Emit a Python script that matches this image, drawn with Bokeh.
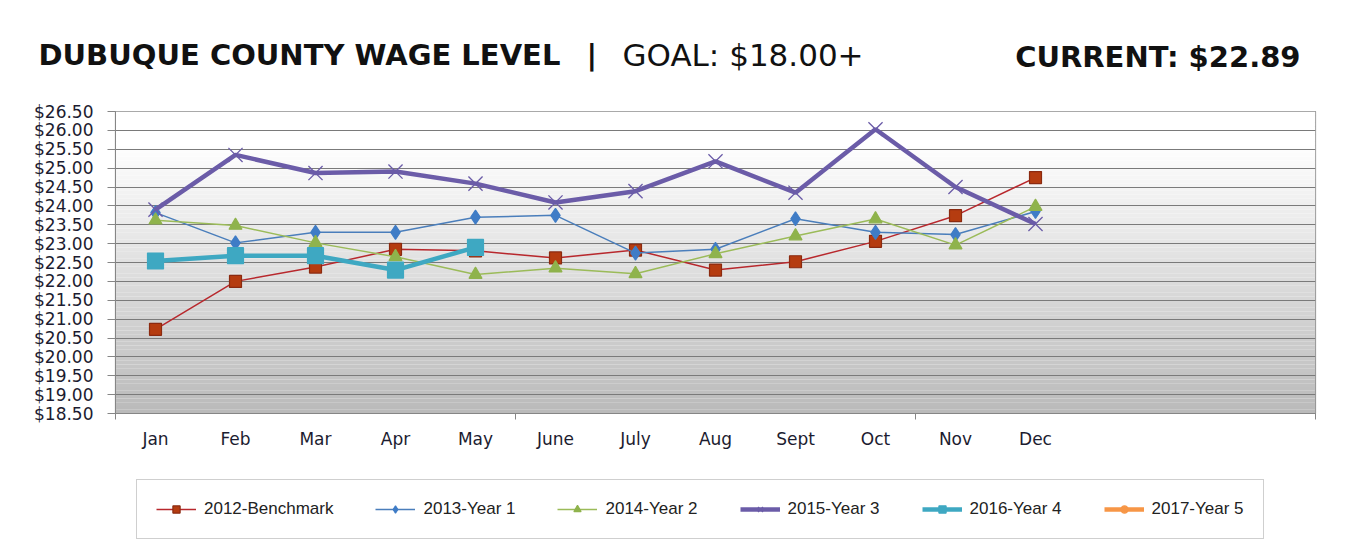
import numpy as np
from bokeh.plotting import figure
from bokeh.models import (Range1d, FixedTicker, PrintfTickFormatter, Legend, LegendItem)
from bokeh.core.properties import value
from bokeh.embed import file_html
from bokeh.resources import INLINE

# ---------------- data ----------------
months = ["Jan", "Feb", "Mar", "Apr", "May", "June", "July", "Aug", "Sept", "Oct", "Nov", "Dec"]
y2012 = [20.73, 22.00, 22.38, 22.85, 22.81, 22.62, 22.83, 22.30, 22.52, 23.06, 23.74, 24.75]
y2013 = [23.82, 23.02, 23.30, 23.30, 23.70, 23.75, 22.75, 22.85, 23.66, 23.30, 23.24, 23.85]
y2014 = [23.62, 23.48, 23.02, 22.65, 22.18, 22.35, 22.20, 22.73, 23.20, 23.65, 22.96, 23.98]
y2015 = [23.90, 25.35, 24.87, 24.91, 24.59, 24.09, 24.39, 25.18, 24.35, 26.03, 24.50, 23.52]
y2016 = [22.54, 22.68, 22.68, 22.30, 22.90]
y2017 = []  # no data reported yet
series_names = ["2012-Benchmark", "2013-Year 1", "2014-Year 2", "2015-Year 3", "2016-Year 4", "2017-Year 5"]
title_main = "DUBUQUE COUNTY WAGE LEVEL"
title_sep = "|"
title_goal = "GOAL: $18.00+"
title_current = "CURRENT: $22.89"

Y_MIN, Y_MAX, Y_STEP = 18.5, 26.5, 0.5
N_SLOTS = 15

W = 1353
HEAD_H = 95
MAIN_H = 365
LEG_H = 542 - HEAD_H - MAIN_H
FRAME_GREY = "#8c8c8c"

# ---------------- header (title texts) ----------------
head = figure(width=W, height=HEAD_H, output_backend="svg", toolbar_location=None,
              x_range=Range1d(0, W), y_range=Range1d(HEAD_H, 0),
              min_border=0, min_border_left=0, min_border_right=0,
              min_border_top=0, min_border_bottom=0)
head.axis.visible = False
head.grid.visible = False
head.outline_line_color = None
head.background_fill_color = "white"
head.border_fill_color = "white"

def htext(fig, x, y, txt, bold, size, align="left"):
    fig.text(x=[x], y=[y], text=[txt], text_font=value("DejaVu Sans"),
             text_font_size=size, text_font_style="bold" if bold else "normal",
             text_color="#111111", text_baseline="alphabetic", text_align=align)

htext(head, 38, 54, title_main, True, "29px")
htext(head, 586, 54, title_sep, True, "29px")
htext(head, 622, 54, title_goal, False, "31px")
htext(head, 1300, 56, title_current, True, "29px", align="right")

# ---------------- main chart ----------------
p = figure(width=W, height=MAIN_H, output_backend="svg", toolbar_location=None,
           x_range=Range1d(-0.5, N_SLOTS - 0.5), y_range=Range1d(Y_MIN, Y_MAX),
           min_border_left=115, min_border_right=W - 1315,
           min_border_top=16, min_border_bottom=MAIN_H - 16 - 302)
p.background_fill_color = "white"
p.border_fill_color = "white"
p.outline_line_color = FRAME_GREY
p.outline_line_width = 1.2

# gradient background of the plot area (decoration)
edges = np.linspace(Y_MIN, Y_MAX, 81)
mid = (edges[:-1] + edges[1:]) / 2
t = np.clip((25.6 - mid) / (25.6 - Y_MIN), 0, 1)
g = (255 - t * (255 - 186)).astype(int)
bg_colors = ["#%02x%02x%02x" % (v, v, v) for v in g]
p.quad(left=-0.5, right=N_SLOTS - 0.5, bottom=edges[:-1], top=edges[1:],
       fill_color=bg_colors, line_color=None, level="image")

# grid
p.xgrid.visible = False
p.ygrid.grid_line_color = "#7a7a7a"
p.ygrid.grid_line_width = 1.2

# axes
yticks = list(np.round(np.arange(Y_MIN, Y_MAX + 0.001, Y_STEP), 2))
p.yaxis.ticker = FixedTicker(ticks=yticks)
p.ygrid.ticker = FixedTicker(ticks=yticks)
p.yaxis.formatter = PrintfTickFormatter(format="$%.2f")
p.yaxis.axis_line_color = "#868686"
p.yaxis.major_tick_line_color = "#868686"
p.yaxis.major_tick_out = 8
p.yaxis.major_tick_in = 0
p.yaxis.minor_tick_line_color = None
p.yaxis.major_label_standoff = 14
p.yaxis.major_label_text_font = "DejaVu Sans"
p.yaxis.major_label_text_font_size = "17px"
p.yaxis.major_label_text_color = "#1c1c30"

p.xaxis.ticker = FixedTicker(ticks=list(range(len(months))),
                             minor_ticks=[-0.5, 4.5, 9.5, 14.5])
p.xaxis.major_label_overrides = {i: m for i, m in enumerate(months)}
p.xaxis.axis_line_color = "#868686"
p.xaxis.major_tick_line_color = None
p.xaxis.minor_tick_line_color = "#868686"
p.xaxis.minor_tick_out = 6
p.xaxis.minor_tick_in = 0
p.xaxis.major_label_standoff = 9
p.xaxis.major_label_text_font = "DejaVu Sans"
p.xaxis.major_label_text_font_size = "17px"
p.xaxis.major_label_text_color = "#1c1c30"

# ---------------- legend strip (own small figure) ----------------
leg = figure(width=W, height=LEG_H, output_backend="svg", toolbar_location=None,
             x_range=Range1d(-0.5, N_SLOTS - 0.5), y_range=Range1d(0, 1),
             min_border=0, min_border_left=0, min_border_right=0,
             min_border_top=0, min_border_bottom=0)
leg.axis.visible = False
leg.grid.visible = False
leg.outline_line_color = None
leg.background_fill_color = "white"
leg.border_fill_color = "white"

# ---------------- series ----------------
styles = [
    # values, line color, line width, marker, marker size, fill, marker line
    (y2012, "#b8282d", 1.5, "square", 12, "#b53c10", "#8b2a10"),
    (y2013, "#4a7ebb", 1.5, "diamond", 14, "#3f7cc6", "#3f7cc6"),
    (y2014, "#9bbb59", 1.5, "triangle", 13, "#8fb34c", "#8fb34c"),
    (y2015, "#6b5ca8", 4.5, "x", 20, "#6b5ca8", "#6b5ca8"),
    (y2016, "#3ea8c2", 4.5, "square", 16, "#3ea8c2", "#3ea8c2"),
    (y2017, "#f79646", 4.5, "circle", 10, "#f79646", "#f79646"),
]

items = []
for name, (vals, lc, lw, mk, ms, fc, mlc) in zip(series_names, styles):
    yy = vals if len(vals) else [float("nan")]   # empty series: nothing drawn
    xx = list(range(len(yy)))
    mlw = 1.2 if mk != "x" else 1.3
    p.line(xx, yy, line_color=lc, line_width=lw)
    p.scatter(xx, yy, marker=mk, size=ms, fill_color=fc, line_color=mlc, line_width=mlw)
    # same series in the legend strip (its ranges keep them out of view);
    # these renderers only supply the legend swatches
    r1 = leg.line(xx, yy, line_color=lc, line_width=lw)
    r2 = leg.scatter(xx, yy, marker=mk, size=ms * 0.7, fill_color=fc, line_color=mlc,
                     line_width=mlw)
    items.append(LegendItem(label=name, renderers=[r1, r2]))

legend = Legend(items=items, orientation="horizontal", location=(136, 3))
legend.margin = 0
legend.padding = 19
legend.spacing = 42
legend.glyph_width = 40
legend.glyph_height = 18
legend.label_standoff = 8
legend.label_text_font = "Liberation Sans"
legend.label_text_font_size = "17px"
legend.label_text_color = "#222222"
legend.border_line_color = "#a0a0a0"
legend.border_line_width = 1.5
legend.background_fill_color = "white"
legend.background_fill_alpha = 1.0
leg.add_layout(legend, "center")

open("out.html", "w").write(file_html([head, p, leg], INLINE))
